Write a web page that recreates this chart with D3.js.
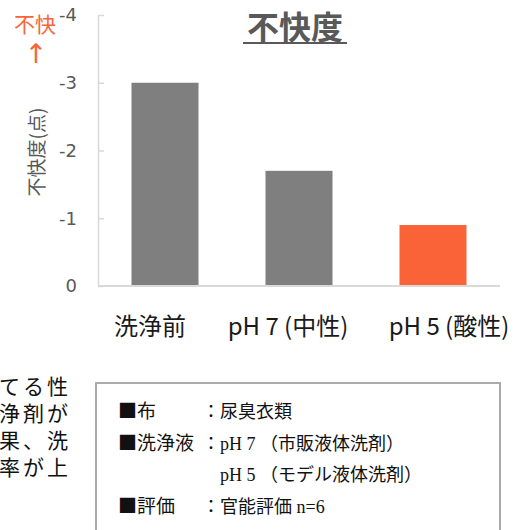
<!DOCTYPE html>
<html>
<head>
<meta charset="utf-8">
<script src="https://cdn.jsdelivr.net/npm/d3@7"></script>
<style>
  html, body { margin: 0; padding: 0; background: #fff; overflow: hidden; }
</style>
</head>
<body>
<div id="chart"></div>
<script>
// chart data
var categories = ["洗浄前", "pH 7 (中性)", "pH 5 (酸性)"];
var values = [-3.0, -1.7, -0.9];
var barColors = ["#7f7f7f", "#7f7f7f", "#fa6338"];
var yTicks = [0, -1, -2, -3, -4];

// note texts below the chart
var sideLines = ["てる性", "洗浄剤が", "結果、洗", "除去率が上"];
var noteLines = [
  ["■", "布", "：尿臭衣類"],
  ["■", "洗浄液", "：pH 7 （市販液体洗剤）"],
  ["", "", "　pH 5 （モデル液体洗剤）"],
  ["■", "評価", "：官能評価 n=6"]
];

var W = 523, H = 530;
var jp = "'Noto Sans CJK JP', 'Noto Sans', sans-serif";
var mincho = "'Liberation Serif', 'Noto Sans CJK JP', serif";

var svg = d3.select("#chart").append("svg")
  .attr("width", W)
  .attr("height", H);

var x = d3.scaleBand()
  .domain(categories)
  .range([98, 500])
  .paddingInner(0.5)
  .paddingOuter(0.25);

var y = d3.scaleLinear()
  .domain([0, -4])
  .range([286, 15]);

// y axis
var yAxis = svg.append("g")
  .attr("transform", "translate(98,0)")
  .call(d3.axisLeft(y).tickValues(yTicks).tickSizeInner(-6).tickSizeOuter(0).tickPadding(21)
    .tickFormat(function(d) { return d === 0 ? "0" : "-" + Math.abs(d); }));
yAxis.select(".domain").attr("stroke", "#d9d9d9").attr("stroke-width", 1.5);
yAxis.selectAll(".tick line").attr("stroke", "#d9d9d9").attr("stroke-width", 1.5);
yAxis.selectAll(".tick text")
  .attr("fill", "#595959")
  .style("font-family", "'DejaVu Sans', sans-serif")
  .style("font-size", "18px");

// bars
svg.selectAll("rect.bar")
  .data(values)
  .enter()
  .append("rect")
  .attr("class", "bar")
  .attr("x", function(d, i) { return x(categories[i]); })
  .attr("width", x.bandwidth())
  .attr("y", function(d) { return y(d); })
  .attr("height", function(d) { return y(0) - y(d); })
  .attr("fill", function(d, i) { return barColors[i]; });

// baseline
svg.append("line")
  .attr("x1", 98).attr("x2", 500)
  .attr("y1", y(0)).attr("y2", y(0))
  .attr("stroke", "#d9d9d9").attr("stroke-width", 2);

// x labels (slightly off-centre in the original)
var labelShift = [-15, -11, 16];
svg.selectAll("text.xlab")
  .data(categories)
  .enter()
  .append("text")
  .attr("class", "xlab")
  .attr("x", function(d, i) { return x(d) + x.bandwidth() / 2 + labelShift[i]; })
  .attr("y", 335)
  .attr("text-anchor", "middle")
  .attr("fill", "#1a1a1a")
  .style("font-family", jp)
  .style("font-size", "24px")
  .text(function(d) { return d; });

// title
svg.append("text")
  .attr("x", 295)
  .attr("y", 39)
  .attr("text-anchor", "middle")
  .attr("fill", "#595959")
  .style("font-family", jp)
  .style("font-weight", "bold")
  .style("font-size", "32px")
  .text("不快度");
svg.append("line")
  .attr("x1", 243).attr("x2", 347)
  .attr("y1", 43).attr("y2", 43)
  .attr("stroke", "#595959").attr("stroke-width", 2);

// y axis title
svg.append("text")
  .attr("transform", "translate(44,152) rotate(-90)")
  .attr("text-anchor", "middle")
  .attr("fill", "#595959")
  .style("font-family", jp)
  .style("font-size", "19px")
  .text("不快度(点)");

// orange marker
svg.append("text")
  .attr("x", 35).attr("y", 32)
  .attr("text-anchor", "middle")
  .attr("fill", "#fa6338")
  .style("font-family", jp)
  .style("font-size", "21px")
  .text("不快");
svg.append("text")
  .attr("x", 36).attr("y", 63)
  .attr("text-anchor", "middle")
  .attr("fill", "#fa6338")
  .style("font-family", "'DejaVu Sans', sans-serif")
  .style("font-size", "27px")
  .text("↑");

// cut-off body text on the left
svg.selectAll("text.side")
  .data(sideLines)
  .enter()
  .append("text")
  .attr("class", "side")
  .attr("x", 71)
  .attr("y", function(d, i) { return 394 + i * 27; })
  .attr("text-anchor", "end")
  .attr("fill", "#111")
  .style("font-family", mincho)
  .style("font-size", "21px")
  .style("letter-spacing", "3px")
  .text(function(d) { return d; });

// note box
svg.append("rect")
  .attr("x", 96).attr("y", 383)
  .attr("width", 404).attr("height", 160)
  .attr("fill", "none")
  .attr("stroke", "#aaaaaa").attr("stroke-width", 2);

var notes = svg.selectAll("g.note")
  .data(noteLines)
  .enter()
  .append("g")
  .attr("class", "note")
  .attr("transform", function(d, i) { return "translate(0," + (418 + i * 31.5) + ")"; });
var head = notes.append("text")
  .attr("x", 118)
  .attr("fill", "#111")
  .style("font-size", "19px");
head.append("tspan")
  .style("font-family", jp)
  .text(function(d) { return d[0]; });
head.append("tspan")
  .style("font-family", mincho)
  .text(function(d) { return d[1]; });
notes.append("text")
  .attr("x", 202)
  .attr("fill", "#111")
  .style("font-family", mincho)
  .style("font-size", "18px")
  .text(function(d) { return d[2]; });
</script>
</body>
</html>
